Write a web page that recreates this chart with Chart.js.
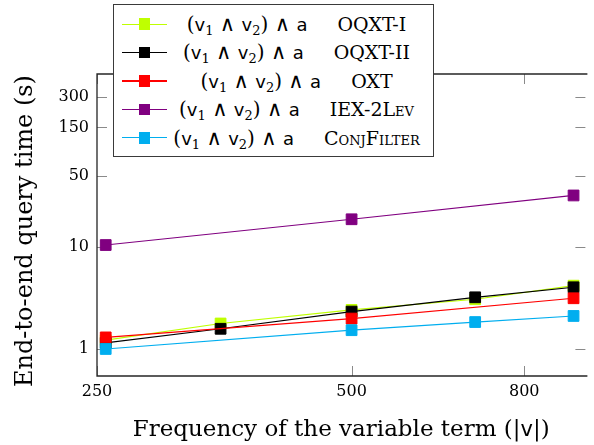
<!DOCTYPE html>
<html>
<head>
<meta charset="utf-8">
<script src="https://cdn.jsdelivr.net/npm/chart.js@4.4.1/dist/chart.umd.min.js"></script>
<style>
html, body { margin: 0; padding: 0; background: #fff; }
#wrap { position: relative; width: 594px; height: 445px; overflow: hidden; }
#c { position: absolute; left: 0; top: 0; }
#legend { position: absolute; left: 112.5px; top: 3.5px; width: 321px; height: 153px; box-sizing: border-box;
  border: 1px solid #3a3a3a; background: #fff; font-family: "DejaVu Serif", serif; color: #000; }
.row { position: absolute; left: 0; width: 100%; height: 28.4px; }
.ln { position: absolute; left: 8px; width: 45px; top: 13.7px; height: 1.2px; }
.mk { position: absolute; left: 25px; top: 8.4px; width: 11.6px; height: 11.6px; }
.tx { position: absolute; left: 58px; width: 250px; top: 0; height: 28.4px; line-height: 28.4px; text-align: center; white-space: nowrap; font-size: 20px; }
.fm { font-size: 20px; }
.op { font-family: "Liberation Serif", "DejaVu Serif", serif; font-size: 21px; }
.sf { font-family: "DejaVu Sans", sans-serif; font-size: 18px; }
.sb { font-size: 13px; position: relative; top: 4px; }
.gap { display: inline-block; width: 30px; }
.nm { font-size: 19px; }
.sc { font-variant: small-caps; }
</style>
</head>
<body>
<div id="wrap">
  <canvas id="c" width="594" height="445"></canvas>
  <div id="legend"></div>
</div>
<script>
// ---------------- data ----------------
const seriesNames = ['OQXT-I', 'OQXT-II', 'OXT', 'IEX-2Lev', 'ConjFilter'];
const seriesColors = ['#bfff00', '#000000', '#ff0000', '#800080', '#00aeef'];
const legendQuery = '(v1 ∧ v2) ∧ a';

const xOQXT1 = [256, 350, 500, 700, 915];
const yOQXT1 = [1.22, 1.78, 2.42, 3.08, 4.19];

const xOQXT2 = [256, 350, 500, 700, 915];
const yOQXT2 = [1.15, 1.58, 2.33, 3.22, 4.04];

const xOXT = [256, 500, 915];
const yOXT = [1.30, 1.99, 3.15];

const xIEX = [256, 500, 915];
const yIEX = [10.5, 18.8, 32.2];

const xConj = [256, 500, 700, 915];
const yConj = [1.0, 1.53, 1.84, 2.11];

const xTickValues = [250, 500, 800];
const yTickValues = [1, 10, 50, 150, 300];

const xTitleParts = [['Frequency of the variable term (|', 'serif'], ['v', 'sans'], ['|)', 'serif']];
const yTitle = 'End-to-end query time (s)';

// ---------------- chart ----------------
function pts(xs, ys) { return xs.map((x, i) => ({ x: x, y: ys[i] })); }
const seriesData = [pts(xOQXT1, yOQXT1), pts(xOQXT2, yOQXT2), pts(xOXT, yOXT), pts(xIEX, yIEX), pts(xConj, yConj)];

const datasets = seriesNames.map((name, i) => ({
  label: name,
  data: seriesData[i],
  borderColor: seriesColors[i],
  backgroundColor: seriesColors[i],
  pointBackgroundColor: seriesColors[i],
  pointBorderColor: seriesColors[i],
  borderWidth: 1.2,
  pointStyle: 'rect',
  pointRadius: 7.6,
  pointBorderWidth: 1,
  pointHoverRadius: 7.6,
  tension: 0,
  fill: false,
  order: seriesNames.length - i
}));

const SERIF = '"DejaVu Serif", serif';
const SANS = '"DejaVu Sans", sans-serif';
const TICK_COLOR = '#8a8a8a';
const TICK_LEN = 10;

const framePlugin = {
  id: 'frame',
  beforeDatasetsDraw(chart) {
    const { ctx, chartArea: a, scales } = chart;
    ctx.save();
    ctx.strokeStyle = TICK_COLOR;
    ctx.lineWidth = 1;
    ctx.beginPath();
    xTickValues.forEach(v => {
      const px = Math.round(scales.x.getPixelForValue(v)) + 0.5;
      ctx.moveTo(px, a.bottom); ctx.lineTo(px, a.bottom - TICK_LEN);
      ctx.moveTo(px, a.top); ctx.lineTo(px, a.top + TICK_LEN);
    });
    yTickValues.forEach(v => {
      const py = Math.round(scales.y.getPixelForValue(v)) + 0.5;
      ctx.moveTo(a.left, py); ctx.lineTo(a.left + TICK_LEN, py);
      ctx.moveTo(a.right, py); ctx.lineTo(a.right - TICK_LEN, py);
    });
    ctx.stroke();
    ctx.strokeStyle = '#262626';
    ctx.lineWidth = 1.3;
    ctx.beginPath();
    ctx.moveTo(a.right + 2, a.top); ctx.lineTo(a.left, a.top); ctx.lineTo(a.left, a.bottom); ctx.lineTo(a.right + 2, a.bottom);
    ctx.stroke();
    ctx.restore();
  },
  afterDraw(chart) {
    const { ctx, chartArea: a } = chart;
    ctx.save();
    ctx.fillStyle = '#000';
    ctx.textBaseline = 'alphabetic';
    const fsx = 23;
    const fontOf = f => (f === 'sans' ? '21px ' + SANS : fsx + 'px ' + SERIF);
    let total = 0;
    const widths = xTitleParts.map(([t, f]) => {
      ctx.font = fontOf(f);
      const w = ctx.measureText(t).width; total += w; return w;
    });
    let x = (a.left + a.right) / 2 - total / 2;
    const baseY = 436;
    xTitleParts.forEach(([t, f], i) => {
      ctx.font = fontOf(f);
      ctx.textAlign = 'left';
      ctx.fillText(t, x, baseY);
      x += widths[i];
    });
    ctx.font = '24px ' + SERIF;
    ctx.translate(31.5, 231);
    ctx.rotate(-Math.PI / 2);
    ctx.textAlign = 'center';
    ctx.fillText(yTitle, 0, 0);
    ctx.restore();
  }
};

const chart = new Chart(document.getElementById('c'), {
  type: 'line',
  data: { datasets: datasets },
  options: {
    responsive: false,
    animation: false,
    events: [],
    layout: { padding: { top: 74, right: 0, left: 0, bottom: 0 } },
    plugins: { legend: { display: false }, tooltip: { enabled: false }, title: { display: false } },
    scales: {
      x: {
        type: 'logarithmic',
        position: 'bottom',
        min: 250,
        max: 945,
        afterBuildTicks: s => { s.ticks = xTickValues.map(v => ({ value: v })); },
        afterFit: s => { s.height = 69; },
        grid: { display: false, drawTicks: false },
        border: { display: false },
        ticks: {
          autoSkip: false, maxRotation: 0, minRotation: 0, padding: 6,
          color: '#000', font: { family: SERIF, size: 16 },
          callback: v => String(v)
        }
      },
      y: {
        type: 'logarithmic',
        position: 'left',
        min: 0.543,
        max: 502,
        afterBuildTicks: s => { s.ticks = yTickValues.map(v => ({ value: v })); },
        afterFit: s => { s.width = 97; },
        grid: { display: false, drawTicks: false },
        border: { display: false },
        ticks: {
          autoSkip: false, padding: 8,
          color: '#000', font: { family: SERIF, size: 16 },
          callback: v => String(v)
        }
      }
    }
  },
  plugins: [framePlugin]
});

// ---------------- legend (HTML, built from the datasets) ----------------
function queryHTML(q) {
  return q
    .replace(/∧/g, '<span class="op">∧</span>')
    .replace(/v(\d)/g, '<span class="sf">v</span><span class="sb">$1</span>')
    .replace(/ a$/, ' <span class="sf">a</span>');
}
function nameHTML(n) {
  if (n === 'IEX-2Lev') return 'IEX-2L<span class="sc">ev</span>';
  if (n === 'ConjFilter') return 'C<span class="sc">onj</span>F<span class="sc">ilter</span>';
  return n;
}
const legendEl = document.getElementById('legend');
chart.data.datasets.forEach((ds, i) => {
  const row = document.createElement('div');
  row.className = 'row';
  row.style.top = (5.5 + i * 28.4) + 'px';
  row.innerHTML =
    '<div class="ln" style="background:' + ds.borderColor + '"></div>' +
    '<div class="mk" style="background:' + ds.pointBackgroundColor + '"></div>' +
    '<div class="tx"><span class="fm">' + queryHTML(legendQuery) + '</span><span class="gap"></span><span class="nm">' + nameHTML(ds.label) + '</span></div>';
  legendEl.appendChild(row);
});
</script>
</body>
</html>
